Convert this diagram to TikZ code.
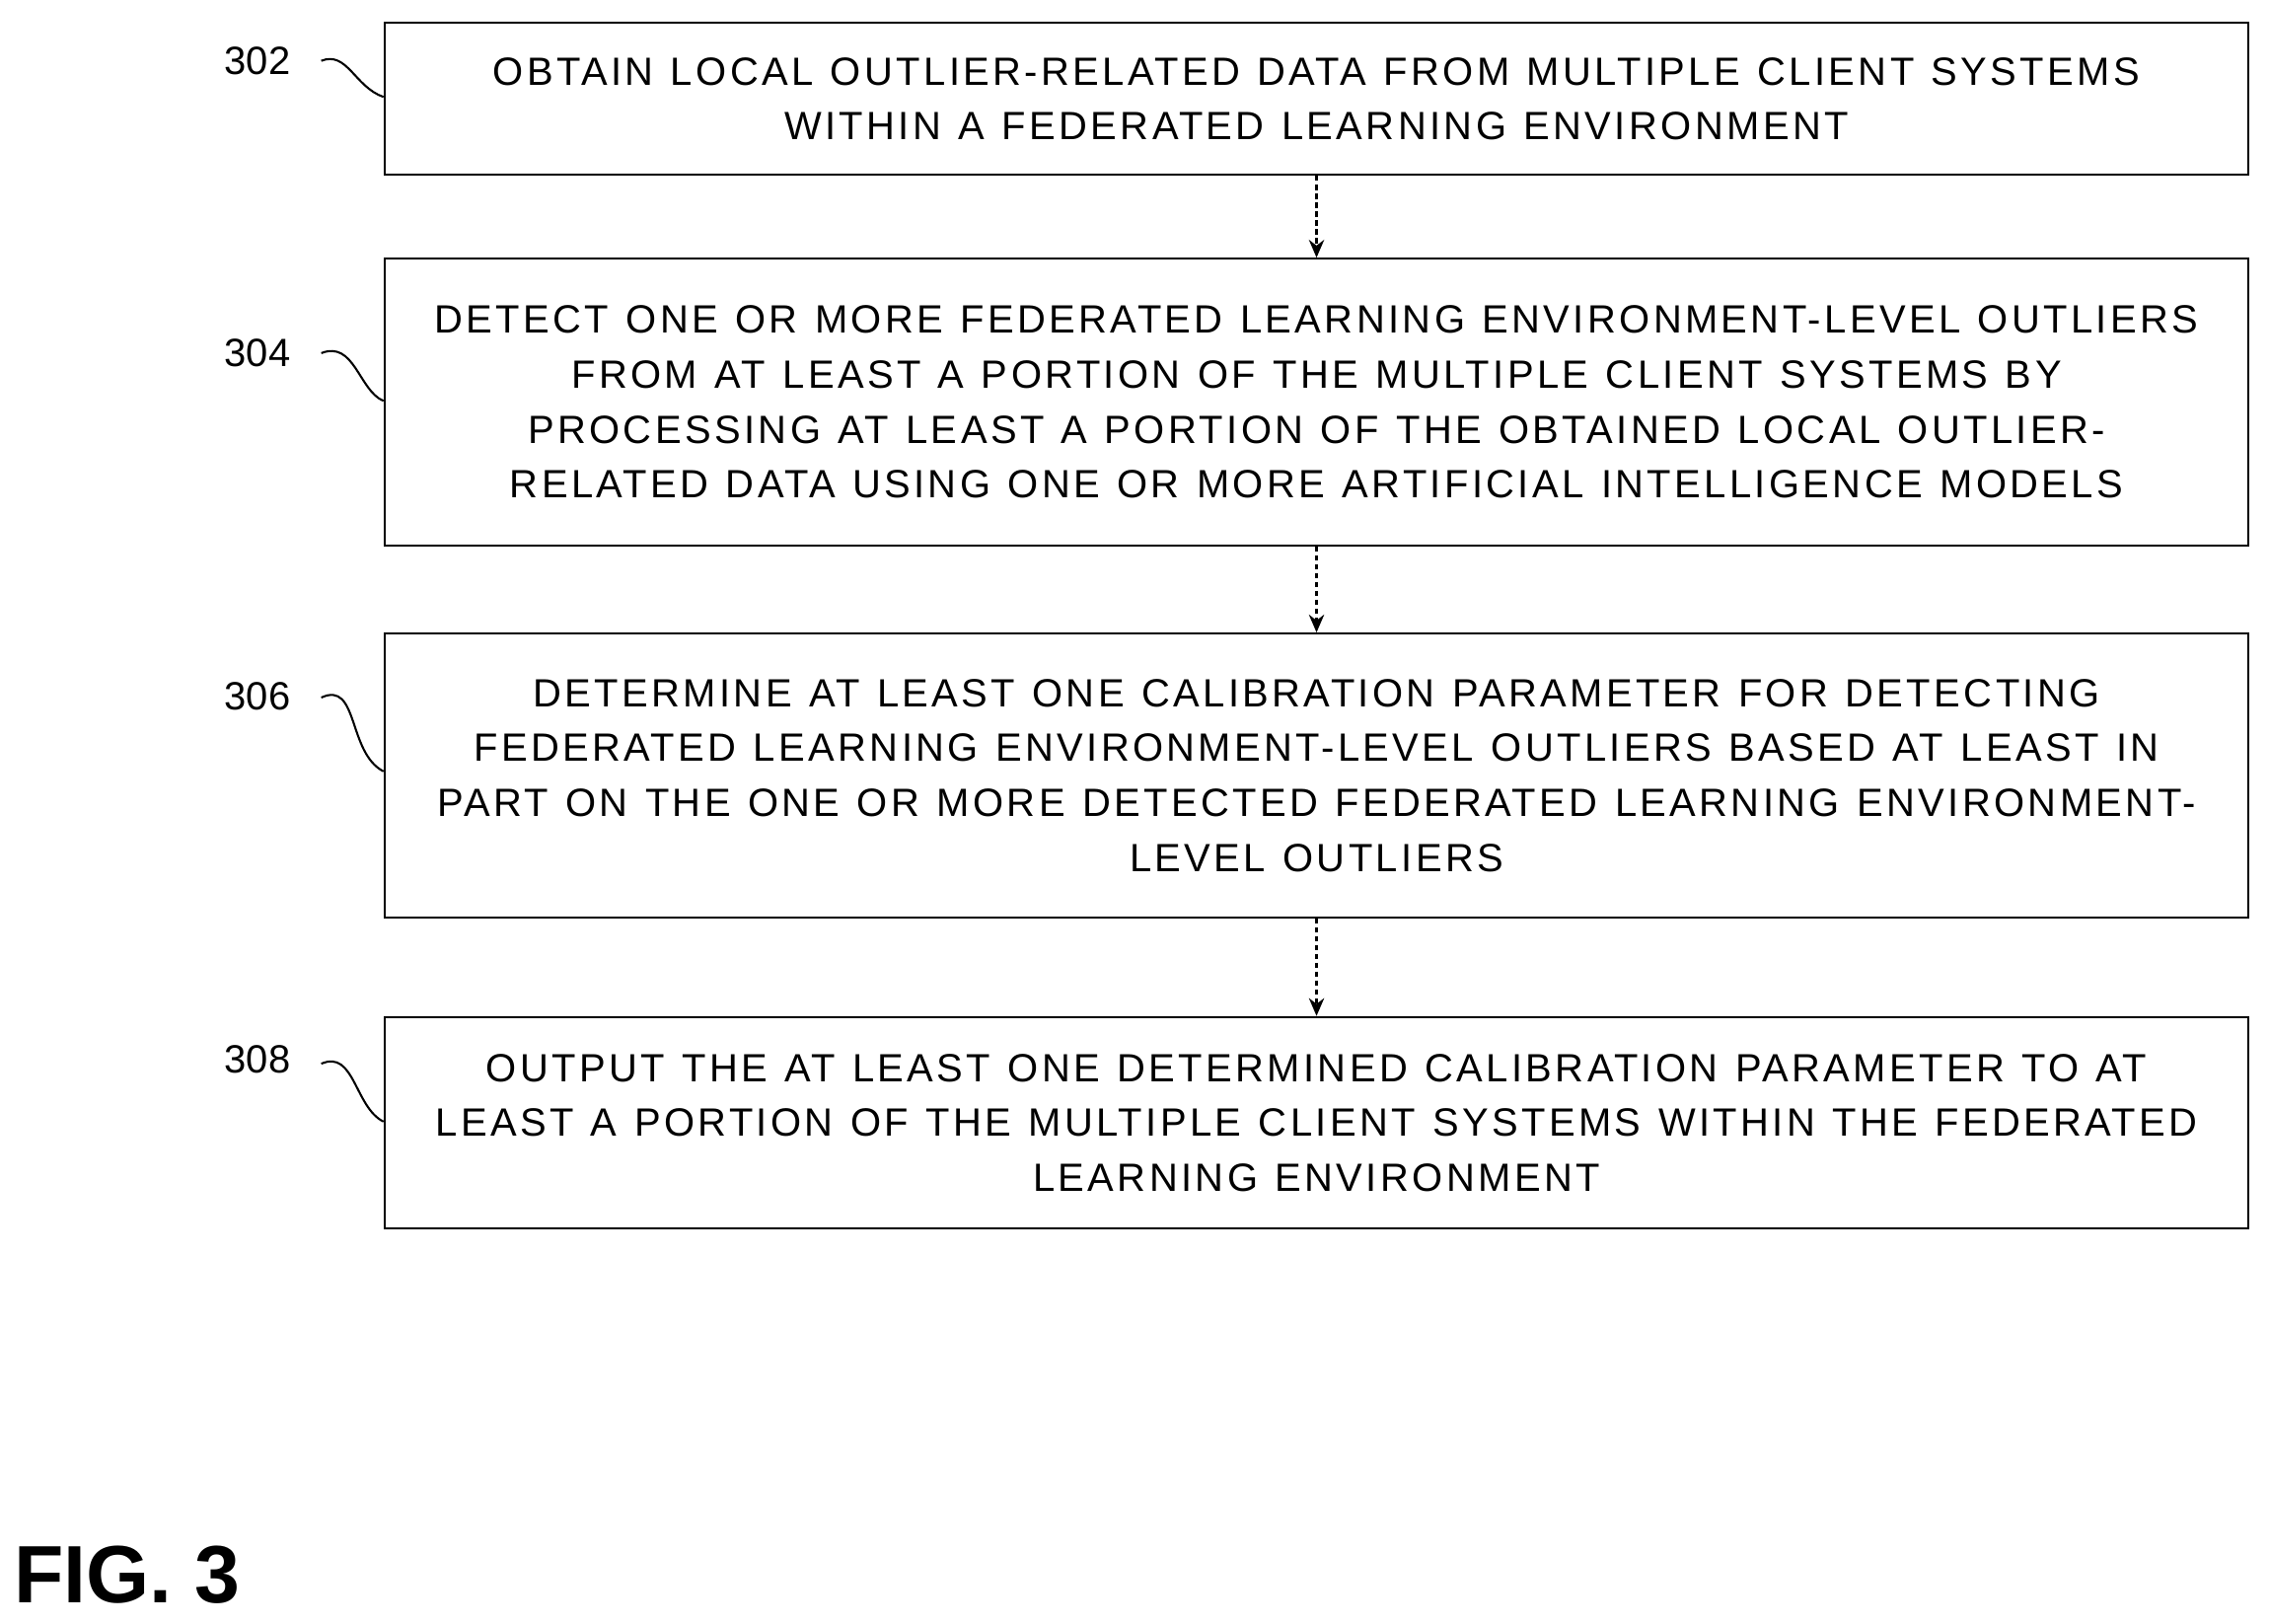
\documentclass[tikz,border=0pt]{standalone}
\usepackage{fontspec}
\setmainfont{Liberation Sans}
\newfontfamily\spacedfont[LetterSpace=8.5,WordSpace=1.2]{Liberation Sans}
\usetikzlibrary{arrows.meta}
\begin{document}
\begin{tikzpicture}[x=0.02cm,y=-0.02cm,
  stepbox/.style={draw,line width=0.9pt,anchor=north west,inner sep=0pt},
  boxtext/.style={align=center,font=\spacedfont\fontsize{15.5}{21.6}\selectfont},
  lab/.style={font=\fontsize{15.5}{18}\selectfont},
  conn/.style={dashed,dash pattern=on 2pt off 1.5pt,line width=0.9pt,-{Stealth[length=7pt,width=6pt]}},
  sq/.style={line width=0.8pt}]
\useasboundingbox (0,0) rectangle (1568,1122);
\node[stepbox,minimum width=1288*0.02cm,minimum height=105*0.02cm] (b1) at (265,15) {};
\node[stepbox,minimum width=1288*0.02cm,minimum height=198*0.02cm] (b2) at (265,178) {};
\node[stepbox,minimum width=1288*0.02cm,minimum height=196*0.02cm] (b3) at (265,437) {};
\node[stepbox,minimum width=1288*0.02cm,minimum height=146*0.02cm] (b4) at (265,702) {};
\node[boxtext] (t1) at (b1.center) {OBTAIN LOCAL OUTLIER-RELATED DATA FROM MULTIPLE CLIENT SYSTEMS\\WITHIN A FEDERATED LEARNING ENVIRONMENT};
\node[boxtext] (t2) at (b2.center) {DETECT ONE OR MORE FEDERATED LEARNING ENVIRONMENT-LEVEL OUTLIERS\\FROM AT LEAST A PORTION OF THE MULTIPLE CLIENT SYSTEMS BY\\PROCESSING AT LEAST A PORTION OF THE OBTAINED LOCAL OUTLIER-\\RELATED DATA USING ONE OR MORE ARTIFICIAL INTELLIGENCE MODELS};
\node[boxtext] (t3) at (b3.center) {DETERMINE AT LEAST ONE CALIBRATION PARAMETER FOR DETECTING\\FEDERATED LEARNING ENVIRONMENT-LEVEL OUTLIERS BASED AT LEAST IN\\PART ON THE ONE OR MORE DETECTED FEDERATED LEARNING ENVIRONMENT-\\LEVEL OUTLIERS};
\node[boxtext] (t4) at (b4.center) {OUTPUT THE AT LEAST ONE DETERMINED CALIBRATION PARAMETER TO AT\\LEAST A PORTION OF THE MULTIPLE CLIENT SYSTEMS WITHIN THE FEDERATED\\LEARNING ENVIRONMENT};
\draw[conn] (b1.south) -- (b2.north);
\draw[conn] (b2.south) -- (b3.north);
\draw[conn] (b3.south) -- (b4.north);
\node[lab] (l1) at (178,42) {302};
\node[lab] (l2) at (178,244) {304};
\node[lab] (l3) at (178,481) {306};
\node[lab] (l4) at (178,732) {308};
\coordinate (e1) at (265,67); \coordinate (e2) at (265,277);
\coordinate (e3) at (265,533); \coordinate (e4) at (265,775);
\draw[sq] (222,42) .. controls (240,35) and (245,60) .. (e1);
\draw[sq] (222,244) .. controls (245,235) and (248,270) .. (e2);
\draw[sq] (222,482) .. controls (248,470) and (240,520) .. (e3);
\draw[sq] (222,735) .. controls (245,725) and (245,765) .. (e4);
\node[font=\fontsize{32}{36}\bfseries\selectfont] (fig) at (88,1088) {FIG. 3};
\end{tikzpicture}
\end{document}
